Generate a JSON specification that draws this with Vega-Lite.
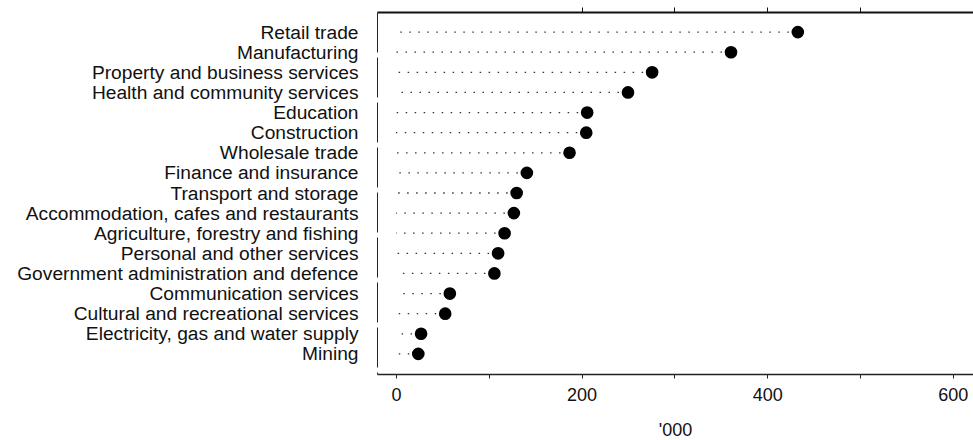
{
  "$schema": "https://vega.github.io/schema/vega-lite/v6.json",
  "width": 596,
  "height": 362,
  "autosize": {"type": "none"},
  "padding": {"left": 377, "top": 12, "right": 0, "bottom": 66},
  "background": "white",
  "config": {
    "view": {"stroke": null},
    "font": "Liberation Sans",
    "axis": {"labelFont": "Liberation Sans", "titleFont": "Liberation Sans", "labelColor": "#111", "titleColor": "#111", "grid": false}
  },
  "data": {
    "values": [
      {"industry": "Retail trade", "employed": 433},
      {"industry": "Manufacturing", "employed": 361},
      {"industry": "Property and business services", "employed": 276},
      {"industry": "Health and community services", "employed": 250},
      {"industry": "Education", "employed": 206},
      {"industry": "Construction", "employed": 205},
      {"industry": "Wholesale trade", "employed": 187},
      {"industry": "Finance and insurance", "employed": 141},
      {"industry": "Transport and storage", "employed": 130},
      {"industry": "Accommodation, cafes and restaurants", "employed": 127},
      {"industry": "Agriculture, forestry and fishing", "employed": 117},
      {"industry": "Personal and other services", "employed": 110},
      {"industry": "Government administration and defence", "employed": 106},
      {"industry": "Communication services", "employed": 58},
      {"industry": "Cultural and recreational services", "employed": 53},
      {"industry": "Electricity, gas and water supply", "employed": 27},
      {"industry": "Mining", "employed": 24}
    ]
  },
  "encoding": {
    "y": {
      "field": "industry",
      "type": "nominal",
      "sort": null,
      "scale": {"type": "point", "padding": 1.14},
      "axis": {"title": null, "ticks": false, "labelFontSize": 19.2, "labelLimit": 400, "labelPadding": 19, "domainColor": "#222", "domainWidth": 1, "domainDash": [40, 5]}
    }
  },
  "layer": [
    {
      "mark": {"type": "rule", "strokeDash": [1.5, 7.5], "strokeWidth": 1.3, "color": "#333"},
      "encoding": {
        "x": {
          "field": "employed",
          "type": "quantitative",
          "scale": {"domain": [-20.5, 621.8], "nice": false, "zero": false},
          "axis": {
            "orient": "bottom",
            "title": "'000",
            "titleFontSize": 18,
            "titleFontWeight": "normal",
            "titlePadding": 17,
            "values": [0, 100, 200, 300, 400, 500, 600],
            "labelExpr": "datum.value % 200 == 0 ? datum.label : ''",
            "labelFontSize": 18,
            "labelPadding": 8,
            "tickSize": 4,
            "tickColor": "#222",
            "domainColor": "#222",
            "domainWidth": 1.5
          }
        },
        "x2": {"datum": 0}
      }
    },
    {
      "mark": {"type": "point", "filled": true, "size": 160, "color": "black", "opacity": 1},
      "encoding": {
        "x": {
          "field": "employed",
          "type": "quantitative",
          "axis": {
            "orient": "top",
            "title": null,
            "labels": false,
            "values": [200, 300, 400, 500],
            "tickSize": 5,
            "tickColor": "#111",
            "domainColor": "#111",
            "domainWidth": 2
          }
        }
      }
    }
  ],
  "resolve": {"axis": {"x": "independent"}}
}
